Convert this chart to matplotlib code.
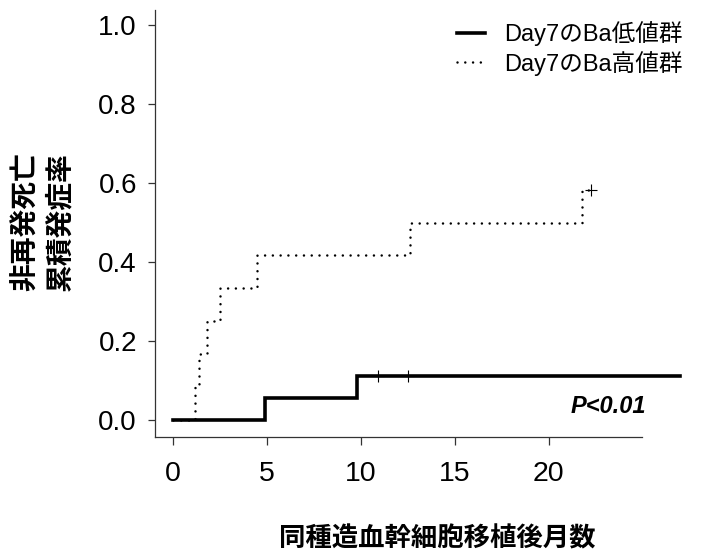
import matplotlib
matplotlib.use("Agg")
import matplotlib.pyplot as plt
from matplotlib.lines import Line2D

# Data
low_times = [0.0, 4.9, 9.8, 27.0]
low_cif = [0.0, 0.056, 0.111, 0.111]
low_cens_t = [10.9, 12.5]
low_cens_y = [0.111, 0.111]

high_times = [0.0, 1.15, 1.38, 1.83, 2.5, 4.45, 12.6, 21.75, 22.25]
high_cif = [0.0, 0.083, 0.167, 0.25, 0.333, 0.417, 0.5, 0.583, 0.583]
high_cens_t = [22.25]
high_cens_y = [0.583]

xticks = [0, 5, 10, 15, 20]
yticks = [0.0, 0.2, 0.4, 0.6, 0.8, 1.0]
legend_labels = ["Day7のBa低値群", "Day7のBa高値群"]
xlabel = "同種造血幹細胞移植後月数"
ylabel = "非再発死亡\n累積発症率"
ptext = "P<0.01"

LAT = ["Liberation Sans", "Noto Sans CJK JP"]
CJK = ["Noto Sans CJK JP", "Liberation Sans"]

W, H = 702, 553
fig = plt.figure(figsize=(W / 100, H / 100), dpi=100)
ax = fig.add_axes([155 / W, 1 - 437 / H, (642 - 155) / W, (437 - 10) / H])

DOT = (0, (0.01, 3.1))
ax.step(high_times, high_cif, where="post", color="black", lw=1.8,
        linestyle=DOT, dash_capstyle="round", clip_on=False)
ax.step(low_times, low_cif, where="post", color="black", lw=2.6,
        solid_joinstyle="miter", clip_on=False)
ax.plot(low_cens_t, low_cens_y, linestyle="none", marker="+", color="black",
        ms=8, mew=0.8, clip_on=False)
ax.plot(high_cens_t, high_cens_y, linestyle="none", marker="+", color="black",
        ms=8, mew=0.8, clip_on=False)

ax.set_xlim(-0.96, 24.96)
ax.set_ylim(-0.043, 1.038)
for s in ["top", "right"]:
    ax.spines[s].set_visible(False)
for s in ["left", "bottom"]:
    ax.spines[s].set_linewidth(0.9)
    ax.spines[s].set_color("#333333")

ax.set_xticks(xticks)
ax.set_xticklabels([str(t) for t in xticks], family=LAT, fontsize=20.5)
ax.set_yticks(yticks)
ax.set_yticklabels([f"{t:.1f}" for t in yticks], family=LAT, fontsize=20)
ax.tick_params(axis="x", length=6, width=0.9, color="#333333", pad=11)
ax.tick_params(axis="y", length=5, width=0.9, color="#333333", pad=8)

ax.text(25.2, 0.035, ptext, ha="right", va="center", fontsize=17,
        fontweight="bold", fontstyle="italic", family=LAT)

fig.text(437 / W, 1 - 539 / H, xlabel, ha="center", va="center",
         fontsize=19, fontweight="bold", family=CJK)
fig.text(43 / W, 1 - 222 / H, ylabel, ha="center", va="center",
         rotation=90, fontsize=20, fontweight="bold", family=CJK,
         multialignment="center", linespacing=1.25)

handles = [Line2D([], [], color="black", lw=2.6),
           Line2D([], [], color="black", lw=1.8, linestyle=DOT,
                  dash_capstyle="round")]
leg = fig.legend(handles, legend_labels, loc="upper left",
                 bbox_to_anchor=(457 / W, 1 - 21 / H), frameon=False,
                 prop={"family": LAT, "size": 17}, handlelength=1.2,
                 handletextpad=0.8, borderpad=0, borderaxespad=0,
                 labelspacing=0.2)

fig.savefig("out.png", dpi=100)
